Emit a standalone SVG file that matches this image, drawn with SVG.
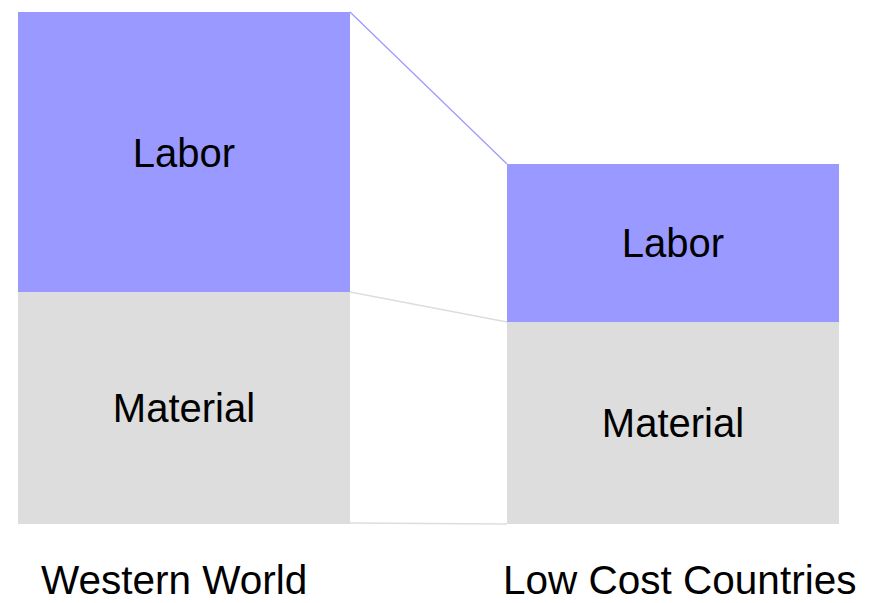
<svg xmlns="http://www.w3.org/2000/svg" width="877" height="603" viewBox="0 0 877 603">
  <style>
    .labor { fill: #9999ff; }
    .material { fill: #dddddd; }
    .lbl { font-family: "Liberation Sans", Arial, sans-serif; font-size: 40px; fill: #000000; }
    .cap { font-size: 40.5px; }
    .mid { text-anchor: middle; }
    .link-blue { stroke: #9999ff; stroke-width: 1.2; fill: none; }
    .link-gray { stroke: #dddddd; stroke-width: 1.5; fill: none; }
  </style>
  <rect width="877" height="603" fill="#ffffff"/>

  <!-- connectors between the two cost stacks -->
  <g id="connectors">
    <line class="link-blue" x1="350" y1="12" x2="507" y2="164"/>
    <line class="link-gray" x1="350" y1="292" x2="507" y2="322"/>
    <line class="link-gray" x1="350" y1="523" x2="507" y2="524"/>
  </g>

  <g id="western-labor">
    <rect class="labor" x="18" y="12" width="332" height="280"/>
    <text class="lbl mid" x="184" y="167">Labor</text>
  </g>
  <g id="western-material">
    <rect class="material" x="18" y="292" width="332" height="232"/>
    <text class="lbl mid" x="184" y="422">Material</text>
  </g>
  <g id="lcc-labor">
    <rect class="labor" x="507" y="164" width="332" height="158"/>
    <text class="lbl mid" x="673" y="257">Labor</text>
  </g>
  <g id="lcc-material">
    <rect class="material" x="507" y="322" width="332" height="202"/>
    <text class="lbl mid" x="673" y="437">Material</text>
  </g>

  <g id="captions">
    <text class="lbl cap" x="41" y="594">Western World</text>
    <text class="lbl cap" x="503" y="594">Low Cost Countries</text>
  </g>
</svg>
